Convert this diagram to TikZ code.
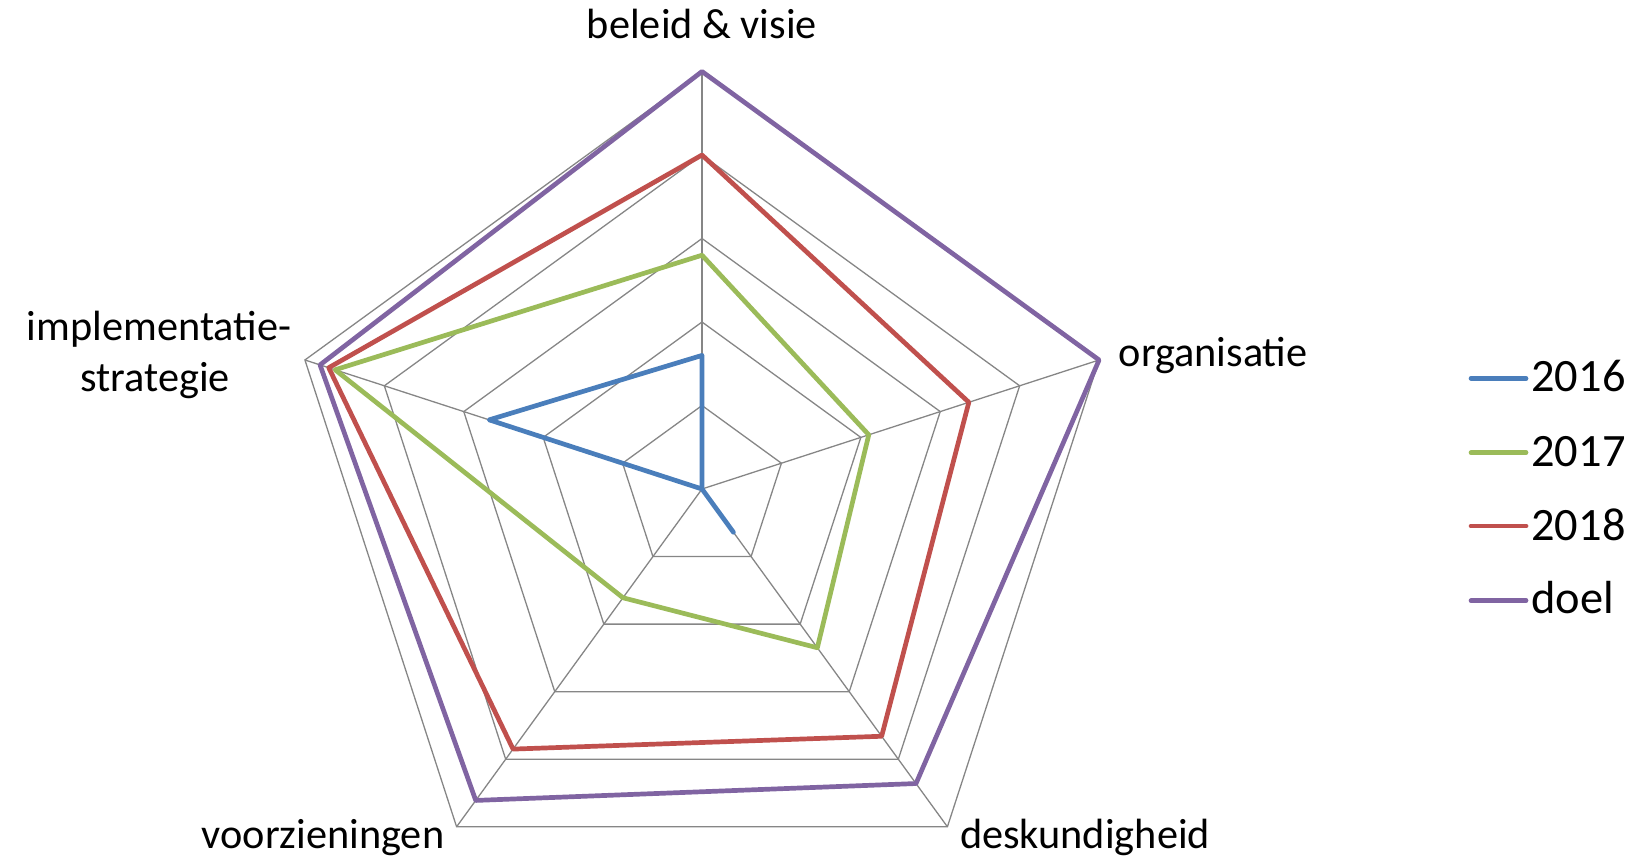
\documentclass[tikz,border=0pt]{standalone}
\usepackage{fontspec}
\setmainfont{Carlito}
\definecolor{gridgray}{RGB}{134,134,134}
\definecolor{s2016}{RGB}{74,126,187}
\definecolor{s2017}{RGB}{155,187,89}
\definecolor{s2018}{RGB}{192,80,77}
\definecolor{sdoel}{RGB}{128,100,162}
\begin{document}
\begin{tikzpicture}[x=0.5pt,y=0.5pt,
  gridline/.style={draw=gridgray,line width=0.65pt},
  series/.style={line width=2.35pt,line join=round},
  legline/.style={line width=2.35pt,line cap=round},
  axislabel/.style={inner sep=0pt,font=\fontsize{21.15}{25}\selectfont},
  leglabel/.style={inner sep=0pt,anchor=base west,font=\fontsize{23.2}{28}\selectfont}]
\useasboundingbox (0,0) rectangle (1631,864);
\def\u{83.5}
\coordinate (c) at (702,375);
% grid
\begin{scope}[shift={(c)}]
\foreach \k in {1,...,5}{
  \draw[gridline] (90:\k*\u) -- (18:\k*\u) -- (-54:\k*\u) -- (-126:\k*\u) -- (162:\k*\u) -- cycle;
}
\foreach \a in {90,18,-54,-126,162}{
  \draw[gridline] (0,0) -- (\a:5*\u);
}
% series
\draw[series,s2016] (90:1.6*\u) -- (18:0) -- (-54:0.64*\u) -- (-126:0) -- (162:2.68*\u) -- cycle;
\draw[series,s2017] (90:2.8*\u) -- (18:2.1*\u) -- (-54:2.35*\u) -- (-126:1.61*\u) -- (162:4.62*\u) -- cycle;
\draw[series,s2018] (90:4*\u) -- (18:3.36*\u) -- (-54:3.66*\u) -- (-126:3.85*\u) -- (162:4.7*\u) -- cycle;
\draw[series,sdoel] (90:5*\u) -- (18:5*\u) -- (-54:4.36*\u) -- (-126:4.61*\u) -- (162:4.81*\u) -- cycle;
\end{scope}
% axis labels
\node[axislabel,anchor=base] (lbel) at (702,825.7) {beleid \& visie};
\node[axislabel,anchor=base west] (lorg) at (1118.3,497.3) {organisatie};
\node[axislabel,anchor=base] (limp1) at (159,524) {implementatie-};
\node[axislabel,anchor=base] (limp2) at (155,473) {strategie};
\node[axislabel,anchor=base] (lvoo) at (323,16) {voorzieningen};
\node[axislabel,anchor=base] (ldes) at (1085,16) {deskundigheid};
% legend
\coordinate (a1) at (1471,485.7); \coordinate (b1) at (1526,485.7);
\coordinate (a2) at (1471,411.3); \coordinate (b2) at (1526,411.3);
\coordinate (a3) at (1471,338);   \coordinate (b3) at (1526,338);
\coordinate (a4) at (1471,263.3); \coordinate (b4) at (1526,263.3);
\draw[legline,s2016] (a1) -- (b1);
\draw[legline,s2017] (a2) -- (b2);
\draw[legline,s2018] (a3) -- (b3);
\draw[legline,sdoel] (a4) -- (b4);
\node[leglabel] (t1) at (1531,472.3) {2016};
\node[leglabel] (t2) at (1531,397.3) {2017};
\node[leglabel] (t3) at (1531,324) {2018};
\node[leglabel] (t4) at (1531,250.7) {doel};
\end{tikzpicture}
\end{document}
